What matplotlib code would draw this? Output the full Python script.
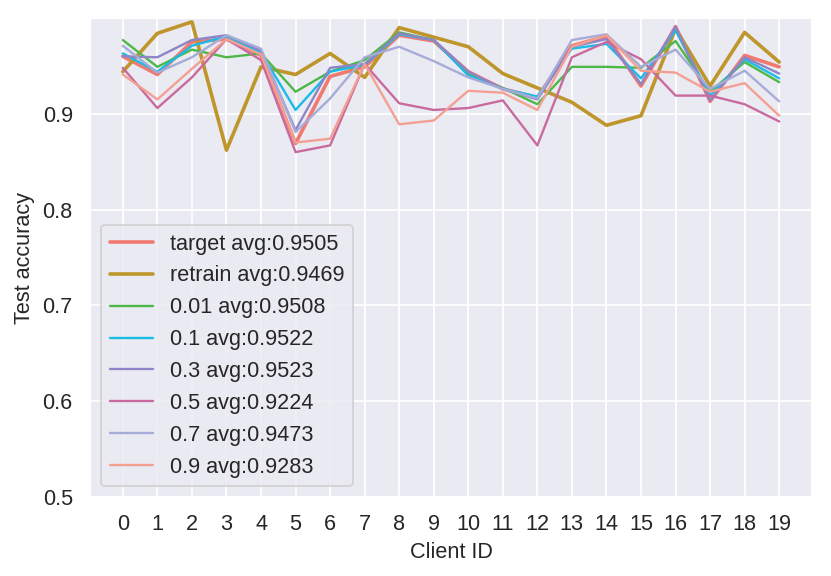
import matplotlib
matplotlib.use("Agg")
import matplotlib.pyplot as plt
import seaborn as sns
import numpy as np

clients = list(range(20))

target = [0.960, 0.941, 0.975, 0.978, 0.961, 0.869, 0.939, 0.949, 0.982, 0.976,
          0.944, 0.926, 0.917, 0.971, 0.981, 0.929, 0.991, 0.913, 0.961, 0.949]
retrain = [0.944, 0.984, 0.996, 0.862, 0.949, 0.941, 0.963, 0.938, 0.990, 0.980,
           0.970, 0.942, 0.927, 0.912, 0.888, 0.898, 0.989, 0.929, 0.985, 0.954]
r001 = [0.977, 0.949, 0.967, 0.959, 0.963, 0.923, 0.944, 0.956, 0.985, 0.977,
        0.941, 0.927, 0.910, 0.949, 0.949, 0.948, 0.976, 0.923, 0.954, 0.933]
r01 = [0.963, 0.944, 0.971, 0.981, 0.964, 0.904, 0.944, 0.951, 0.983, 0.977,
       0.940, 0.926, 0.918, 0.968, 0.973, 0.937, 0.987, 0.919, 0.957, 0.937]
r03 = [0.960, 0.959, 0.977, 0.982, 0.966, 0.883, 0.948, 0.952, 0.984, 0.977,
       0.944, 0.926, 0.915, 0.970, 0.978, 0.931, 0.991, 0.914, 0.959, 0.942]
r05 = [0.948, 0.906, 0.938, 0.978, 0.956, 0.860, 0.867, 0.952, 0.911, 0.904,
       0.906, 0.914, 0.867, 0.959, 0.975, 0.957, 0.919, 0.919, 0.910, 0.892]
r07 = [0.971, 0.943, 0.959, 0.982, 0.968, 0.881, 0.916, 0.959, 0.970, 0.955,
       0.938, 0.926, 0.916, 0.977, 0.983, 0.949, 0.967, 0.926, 0.945, 0.913]
r09 = [0.941, 0.915, 0.947, 0.978, 0.962, 0.870, 0.874, 0.952, 0.889, 0.893,
       0.924, 0.922, 0.904, 0.970, 0.982, 0.945, 0.943, 0.923, 0.932, 0.898]

labels = ["target avg:0.9505", "retrain avg:0.9469", "0.01 avg:0.9508", "0.1 avg:0.9522",
          "0.3 avg:0.9523", "0.5 avg:0.9224", "0.7 avg:0.9473", "0.9 avg:0.9283"]
series = [target, retrain, r001, r01, r03, r05, r07, r09]
colors = ["#f07a70", "#bf962c", "#4db848", "#1bbbe8", "#8e84c6", "#c96a9f", "#a5acd8", "#f3a093"]
widths = [2.0, 2.0, 1.3, 1.3, 1.3, 1.3, 1.3, 1.3]

sns.set_theme(style="darkgrid")
plt.rcParams['font.family'] = ['Liberation Sans', 'DejaVu Sans']
plt.rcParams['xtick.labelsize'] = 12
plt.rcParams['ytick.labelsize'] = 12
plt.rcParams['legend.fontsize'] = 12
plt.rcParams['axes.labelsize'] = 12

fig = plt.figure(figsize=(831 / 130, 576 / 130), dpi=130)
ax = fig.add_axes([90 / 831, 1 - 497 / 576, (812 - 90) / 831, (497 - 18) / 576])

for ys, lab, c, w in zip(series, labels, colors, widths):
    ax.plot(clients, ys, color=c, linewidth=w, label=lab)

ax.set_ylim(0.5, 1.0)
ax.set_xticks(clients)
ax.set_yticks([0.5, 0.6, 0.7, 0.8, 0.9])
ax.set_xlabel("Client ID")
ax.set_ylabel("Test accuracy")
ax.legend(loc="lower left")

fig.savefig("out.png", dpi=130)
